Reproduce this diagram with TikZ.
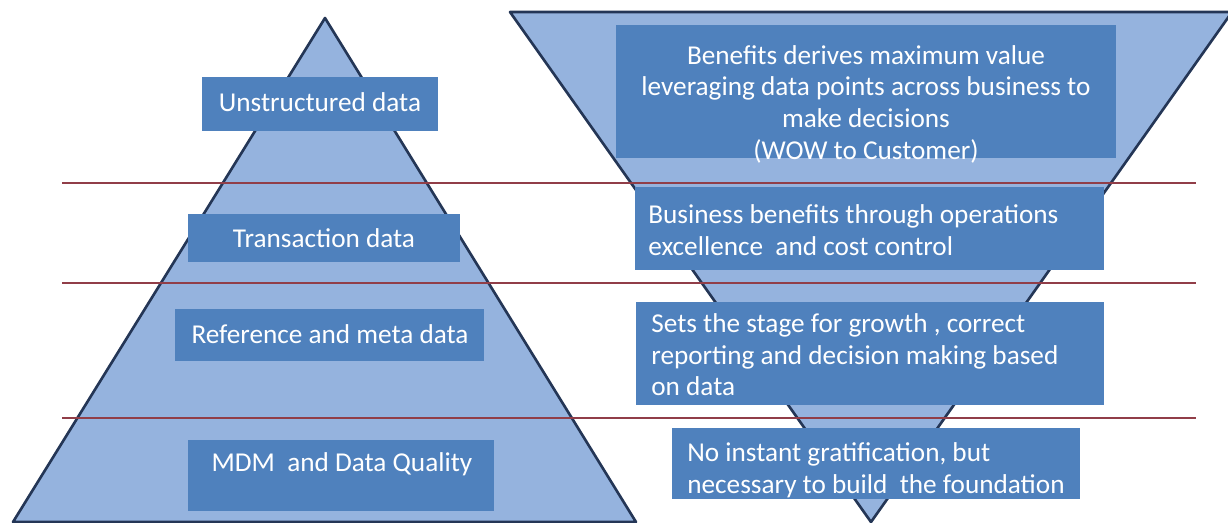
\documentclass[tikz,border=0pt]{standalone}
\usepackage{fontspec}
\setmainfont{Carlito}
\definecolor{pyrfill}{RGB}{149,179,222}
\definecolor{pyredge}{RGB}{36,54,86}
\definecolor{boxblue}{RGB}{79,129,189}
\definecolor{sepline}{RGB}{145,62,72}
\newcommand\layerfont{\fontsize{15.5}{18}\selectfont}
\begin{document}
\begin{tikzpicture}[x=0.02cm,y=-0.02cm,
        layer/.style={fill=boxblue,draw=none,inner sep=0pt},
        lefttext/.style={text=white,inner sep=0pt,font=\layerfont},
        righttext/.style={text=white,inner sep=0pt,font=\layerfont,align=left,anchor=west}]
        \useasboundingbox (0,0) rectangle (1228,522);

        % draw the pyramid and the funnel
        \filldraw[fill=pyrfill,draw=pyredge,line width=1.5pt,line join=round]
                (325,18) -- (636,522) -- (13,522) -- cycle;
        \filldraw[fill=pyrfill,draw=pyredge,line width=1.5pt,line join=round]
                (510,12) -- (1232,12) -- (871,522) -- cycle;

        % draw the lines between the layers
        \foreach \y in {183,283,418}
                \draw[sepline,line width=1pt] (62,\y) -- (1196,\y);

        % boxes on the pyramid
        \node[layer,minimum width=4.72cm,minimum height=1.08cm] (unstr) at (320,104) {};
        \node[layer,minimum width=5.44cm,minimum height=0.96cm] (trans) at (324,238) {};
        \node[layer,minimum width=6.18cm,minimum height=1.04cm] (refmeta) at (329.5,335) {};
        \node[layer,minimum width=6.12cm,minimum height=1.42cm] (mdm) at (341,475.5) {};

        \node[lefttext] (unstr-text) at (320,102) {Unstructured data};
        \node[lefttext] (trans-text) at (324,238) {Transaction data};
        \node[lefttext] (refmeta-text) at (330,334) {Reference and meta data};
        \node[lefttext] (mdm-text) at (342,464) {MDM\ \ and Data Quality};

        % boxes on the funnel
        \node[layer,minimum width=10cm,minimum height=2.66cm] (benefit) at (866,91.5) {};
        \node[layer,minimum width=9.38cm,minimum height=1.66cm] (busi) at (869.5,228.5) {};
        \node[layer,minimum width=9.36cm,minimum height=2.06cm] (stage) at (870,353.5) {};
        \node[layer,minimum width=8.16cm,minimum height=1.42cm] (instant) at (876,463.5) {};

        \node[lefttext,align=center] (benefit-text) at (866,104)
                {Benefits derives maximum value\\
                 leveraging data points across business to\\
                 make decisions\\
                 (WOW to Customer)};
        \node[righttext] (busi-text) at (648,230)
                {Business benefits through operations\\
                 excellence\ \ and cost control};
        \node[righttext] (stage-text) at (651,355)
                {Sets the stage for growth , correct\\
                 reporting and decision making based\\
                 on data};
        \node[righttext] (instant-text) at (687,470)
                {No instant gratification, but\\
                 necessary to build\ \ the foundation};
\end{tikzpicture}
\end{document}
